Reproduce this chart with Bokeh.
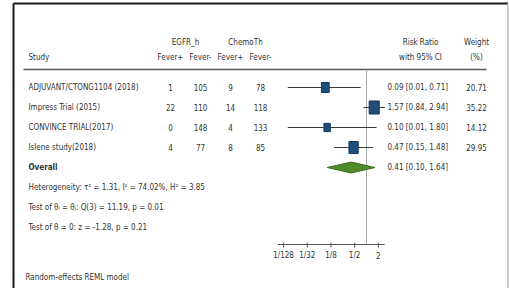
from bokeh.plotting import figure
from bokeh.models import Range1d, LogScale, ColumnDataSource
from bokeh.core.properties import value
from bokeh.embed import file_html
from bokeh.resources import INLINE
import math

# ---------------- data ----------------
studies = ["ADJUVANT/CTONG1104 (2018)", "Impress Trial (2015)",
           "CONVINCE TRIAL(2017)", "Islene study(2018)"]
egfr_pos = [1, 22, 0, 4]
egfr_neg = [105, 110, 148, 77]
chemo_pos = [9, 14, 4, 8]
chemo_neg = [78, 118, 133, 85]
rr = [0.09, 1.57, 0.10, 0.47]
rr_lo = [0.01, 0.84, 0.01, 0.15]
rr_hi = [0.71, 2.94, 1.80, 1.48]
weight = [20.71, 35.22, 14.12, 29.95]
overall = [0.41, 0.10, 1.64]  # estimate, low, high
het_text = "Heterogeneity: \u03c4\u00b2 = 1.31, I\u00b2 = 74.02%, H\u00b2 = 3.85"
test1_text = "Test of \u03b8\u1d62 = \u03b8\u2c7c: Q(3) = 11.19, p = 0.01"
test2_text = "Test of \u03b8 = 0: z = -1.28, p = 0.21"
model_text = "Random-effects REML model"
tick_vals = [1/128, 1/32, 1/8, 1/2, 2]
tick_labels = ["1/128", "1/32", "1/8", "1/2", "2"]
axis_ends = [1/180, 2.9]

# ---------------- layout ----------------
W, H = 509, 288
FONT = value("'DejaVu Sans Condensed', 'Liberation Sans', sans-serif")
FS = "8px"
TXT = "#333333"
null_px, px_per_log2 = 366.0, 11.85
rr_start = 2 ** ((0 - null_px) / px_per_log2)
rr_end = 2 ** ((W - null_px) / px_per_log2)

row_y = [87, 107, 127, 147]
y_overall, y_het, y_t1, y_t2 = 167, 187, 207, 227
y_axis, y_ticklab, y_model = 244, 255, 277
col_x = [170, 200, 230, 260]

p = figure(width=W, height=H, output_backend="svg", toolbar_location=None,
           x_range=Range1d(0, W), y_range=Range1d(H, 0),
           x_axis_location=None, y_axis_location=None,
           min_border=0, outline_line_color=None, background_fill_color="white",
           border_fill_color="white")
p.grid.visible = False
p.extra_x_ranges = {"rr": Range1d(rr_start, rr_end)}
p.extra_x_scales = {"rr": LogScale()}

def txt(x, y, s, align="left", bold=False, size=FS, color=TXT):
    p.text(x=[x], y=[y], text=[s], text_font=FONT, text_font_size=size,
           text_align=align, text_baseline="middle", text_color=color,
           text_font_style="bold" if bold else "normal")

# frame border
p.segment(x0=[13, 13, 507.5], y0=[3, 3, 3], x1=[13, 507.5, 507.5], y1=[288, 3, 288],
          line_color=["#1a1a1a", "#1a1a1a", "#bbbbbb"], line_width=[2, 2, 1.5])

# headers
txt(185, 42, "EGFR_h", "center")
txt(245, 42, "ChemoTh", "center")
txt(28, 57, "Study")
for cx, lab in zip(col_x, ["Fever+", "Fever-", "Fever+", "Fever-"]):
    txt(cx, 57, lab, "center")
txt(420, 42, "Risk Ratio", "center")
txt(420, 57, "with 95% CI", "center")
txt(476, 42, "Weight", "center")
txt(476, 57, "(%)", "center")
p.segment(x0=[23], y0=[69], x1=[486], y1=[69], line_color="#555555", line_width=1.5)

# null line
p.segment(x0=[1], y0=[69], x1=[1], y1=[y_axis], x_range_name="rr",
          line_color="#aaaaaa", line_width=1)

# study rows
for i, s in enumerate(studies):
    y = row_y[i]
    txt(28, y, s)
    for cx, v in zip(col_x, [egfr_pos[i], egfr_neg[i], chemo_pos[i], chemo_neg[i]]):
        txt(cx, y, str(v), "center")
    txt(387, y, f"{rr[i]:.2f} [{rr_lo[i]:.2f}, {rr_hi[i]:.2f}]")
    txt(476, y, f"{weight[i]:.2f}", "center")

src = ColumnDataSource(dict(
    y=row_y, rr=rr, lo=rr_lo, hi=rr_hi,
    w=[1.7 * math.sqrt(v) for v in weight],
    h=[2.2 * math.sqrt(v) for v in weight]))
p.segment(x0="lo", x1="hi", y0="y", y1="y", source=src, x_range_name="rr",
          line_color="#3a3a3a", line_width=1.2)
p.rect(x="rr", y="y", width="w", height="h", width_units="screen",
       height_units="screen", source=src, x_range_name="rr",
       fill_color="#1f4e79", line_color="#15385a", line_width=1)

# overall
txt(28, y_overall, "Overall", bold=True)
est, lo, hi = overall
p.patch(x=[lo, est, hi, est], y=[y_overall, y_overall - 5.5, y_overall, y_overall + 5.5],
        x_range_name="rr", fill_color="#4f8a2b", line_color="#3e6e22", line_width=1)
txt(387, y_overall, f"{est:.2f} [{lo:.2f}, {hi:.2f}]")
txt(28, y_het, het_text)
txt(28, y_t1, test1_text)
txt(28, y_t2, test2_text)

# forest axis
p.segment(x0=[axis_ends[0]], x1=[axis_ends[1]], y0=[y_axis], y1=[y_axis],
          x_range_name="rr", line_color="#555555", line_width=1)
p.segment(x0=tick_vals, x1=tick_vals, y0=[y_axis - 2] * len(tick_vals),
          y1=[y_axis + 3] * len(tick_vals), x_range_name="rr",
          line_color="#555555", line_width=1)
p.text(x=tick_vals, y=[y_ticklab] * len(tick_vals), text=tick_labels,
       x_range_name="rr", text_font=FONT, text_font_size=FS, text_align="center",
       text_baseline="middle", text_color=TXT)

txt(25, y_model, model_text)

open("out.html", "w").write(file_html(p, INLINE))
